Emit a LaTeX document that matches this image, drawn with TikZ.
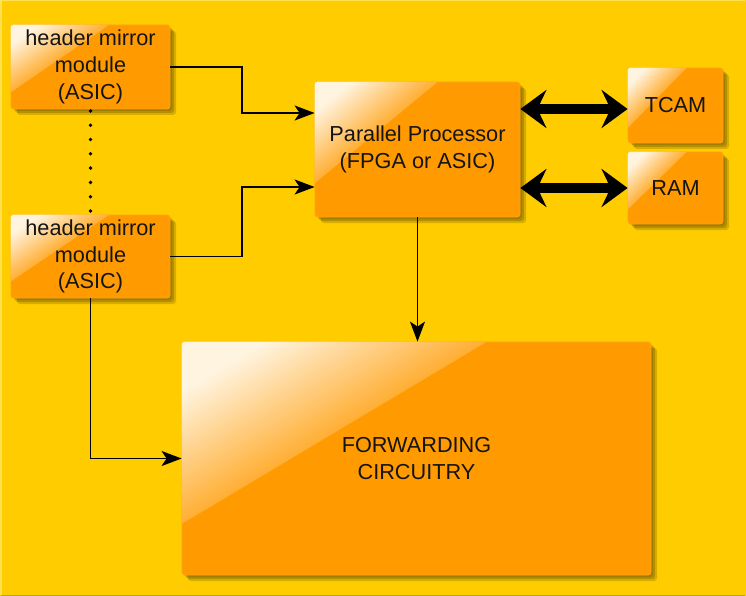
\documentclass[tikz,border=0pt]{standalone}
\usepackage{fontspec}
\setmainfont{Liberation Sans}
\usetikzlibrary{arrows.meta,calc,shadows}
\definecolor{bgyellow}{HTML}{FFCC00}
\definecolor{bgedge}{HTML}{FFE24D}
\definecolor{bgdark}{HTML}{B8A040}
\definecolor{boxorange}{HTML}{FF9A00}
\definecolor{boxedge}{HTML}{FFA31A}
\definecolor{glosslight}{HTML}{FFF4E0}
\definecolor{glossmid}{HTML}{FFAE33}

% glossy highlight in the upper-left corner of a box:
% #1 node name, #2 fraction along the top edge, #3 fraction down the left edge
% the gradient runs at right angles to the highlight's lower edge
\newcommand\glossbox[3]{%
  \path let \p1=($(#1.north east)-(#1.south west)$) in
    \pgfextra{\pgfmathsetmacro\gangle{atan2(#2*\x1,-#3*\y1)-90}\xdef\glossangle{\gangle}};
  \begin{scope}
    \clip[rounded corners=3pt] (#1.south west) rectangle (#1.north east);
    \shade[top color=glosslight, bottom color=boxorange, middle color=glossmid, shading angle=\glossangle]
      (#1.north west) -- ($(#1.north west)!#2!(#1.north east)$)
      -- ($(#1.north west)!#3!(#1.south west)$) -- cycle;
  \end{scope}}

\begin{document}
\begin{tikzpicture}[x=1pt,y=-1pt,
  block/.style={rectangle, rounded corners=3pt, fill=boxorange, draw=boxedge, line width=0.8pt,
    minimum width=#1, inner sep=0pt,
    drop shadow={shadow xshift=6pt, shadow yshift=-6pt, opacity=0.15, fill=black},
    drop shadow={shadow xshift=4pt, shadow yshift=-4pt, opacity=0.17, fill=black},
    drop shadow={shadow xshift=2pt, shadow yshift=-2pt, opacity=0.12, fill=black}},
  label/.style={align=center, inner sep=0pt, text=black!92, font=\fontsize{21.7}{26.8}\selectfont},
  arr/.style={draw=black, line width=1.6pt, -{Stealth[length=20pt, width=15pt, inset=5pt]}},
  bigarr/.style={draw=black, line width=10pt,
    {Stealth[length=26pt, width=38pt, inset=9pt]}-{Stealth[length=26pt, width=38pt, inset=9pt]}},
  dots/.style={draw=black, line width=3.8pt, line cap=round, dash pattern=on 0pt off 14.3pt}]

% canvas
\fill[bgyellow] (0,0) rectangle (746,596);
\draw[bgedge, line width=1.5pt] (0.75,595.25) -- (0.75,0.75) -- (745.25,0.75);
\draw[bgdark, line width=1.5pt] (0.75,595.25) -- (745.25,595.25);
\useasboundingbox (0,0) rectangle (746,596);

% blocks
\node[block=159pt, minimum height=84pt] (hm1) at (90.5,67) {};
\node[block=159pt, minimum height=83pt] (hm2) at (90.5,256.5) {};
\node[block=205pt, minimum height=135pt] (pp) at (417.5,149.5) {};
\node[block=95pt, minimum height=75pt] (tcam) at (675.5,105.5) {};
\node[block=95pt, minimum height=72pt] (ram) at (675.5,188) {};
\node[block=469pt, minimum height=233pt] (fwd) at (416.5,458.5) {};

\glossbox{hm1}{0.62}{0.8}
\glossbox{hm2}{0.62}{0.8}
\glossbox{pp}{0.6}{0.75}
\glossbox{tcam}{0.62}{0.8}
\glossbox{ram}{0.62}{0.8}
\glossbox{fwd}{0.65}{0.78}

% labels, set above the highlights
\node[label] (hm1t) at (hm1) {header mirror\\module\\(ASIC)};
\node[label] (hm2t) at (hm2) {header mirror\\module\\(ASIC)};
\node[label] (ppt) at (pp) {Parallel Processor\\(FPGA or ASIC)};
\node[label] (tcamt) at (tcam) {TCAM};
\node[label] (ramt) at (ram) {RAM};
\node[label] (fwdt) at (fwd) {FORWARDING\\CIRCUITRY};

% bend points of the input links
\coordinate (j1) at (242,113);
\coordinate (j2) at (242,187);
\coordinate (t1) at (0,109);

% connectors
\draw[arr] (hm1.east) -- (hm1.east -| j1) -- (j1) -- (j1 -| pp.west);
\draw[arr] (hm2.east) -- (hm2.east -| j2) -- (j2) -- (j2 -| pp.west);
\draw[arr] (hm2.south) |- (fwd.west);
\draw[arr] (pp.south) -- (pp.south |- fwd.north);
\draw[dots] ($(hm1.south)+(0,1.5)$) -- (hm2.north);
\draw[bigarr] (pp.east |- t1) -- (tcam.west |- t1);
\draw[bigarr] (pp.east |- ram.west) -- (ram.west);
\end{tikzpicture}
\end{document}
